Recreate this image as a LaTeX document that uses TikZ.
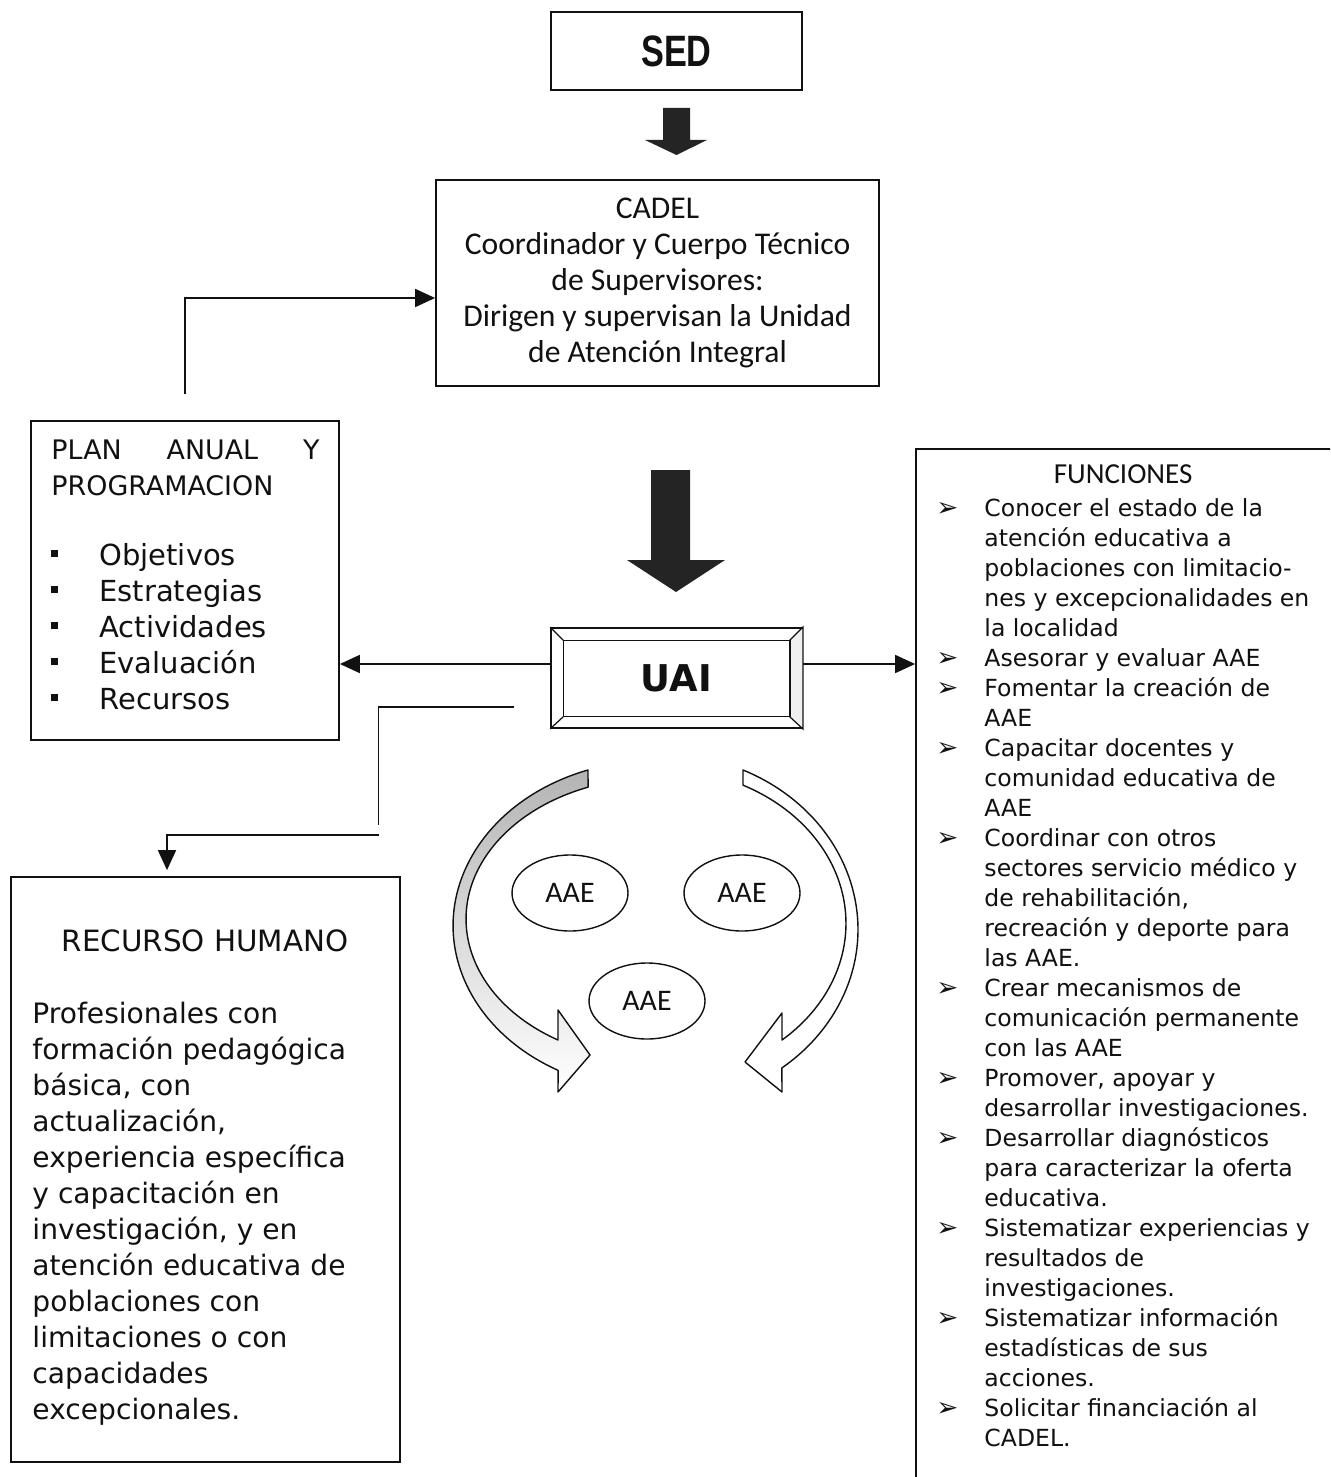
\documentclass[tikz,border=0pt]{standalone}
\usepackage{fontspec}
\setmainfont{DejaVu Sans}
\newfontfamily\gothfont{Carlito}
\newfontfamily\narrowfont[FakeStretch=0.78]{Liberation Sans}
\usepackage{tikz}
\usetikzlibrary{arrows.meta,positioning,shapes.geometric,calc}
\definecolor{UaiInk}{HTML}{111111}
\definecolor{UaiShade}{HTML}{B4B4B4}
\newcommand{\sqbullet}{\rule[0.16cm]{0.14cm}{0.14cm}}
\newcommand{\arrbullet}{{\fontsize{15}{17}\selectfont ➢}}
\tikzset{
  orgbox/.style={draw=UaiInk, line width=1pt, fill=white, inner sep=0pt},
  listtext/.style={anchor=north west, inner sep=0pt},
  aaebox/.style={ellipse, draw=UaiInk, line width=0.8pt, minimum width=2.32cm, minimum height=1.52cm, inner sep=0pt, font=\gothfont\fontsize{17}{20}\selectfont},
  orgline/.style={draw=UaiInk, line width=1pt},
  orgarrow/.style={orgline, -{Triangle[length=0.4cm,width=0.36cm]}},
  blockarrow/.style={fill=UaiInk!92},
  bendarrow/.style={draw=UaiInk, line width=0.8pt, line join=round}
}

\begin{document}
\begin{tikzpicture}[every node/.style={text=UaiInk}]
\useasboundingbox (0,0) rectangle (26.6,-29.54);
\clip (0,0) rectangle (26.6,-29.54);
% top: SED and CADEL
\node[orgbox, minimum width=5.02cm, minimum height=1.56cm, font=\narrowfont\bfseries\fontsize{25}{28}\selectfont] (sed) at (13.53,-1.02) {SED};
\fill[blockarrow] (13.26,-2.16) -- (13.80,-2.16) -- (13.80,-2.80) -- (14.14,-2.80) -- (13.53,-3.10) -- (12.90,-2.80) -- (13.26,-2.80) -- cycle;
\node[orgbox, minimum width=8.86cm, minimum height=4.12cm, align=center, font=\gothfont\fontsize{18}{20.5}\selectfont] (cadel) at (13.15,-5.66) {CADEL\\Coordinador y Cuerpo Técnico\\de Supervisores:\\Dirigen y supervisan la Unidad\\de Atención Integral};
\fill[blockarrow] (13.02,-9.40) -- (13.80,-9.40) -- (13.80,-11.20) -- (14.50,-11.20) -- (13.52,-11.84) -- (12.54,-11.20) -- (13.02,-11.20) -- cycle;
% UAI, bevelled frame
\node[orgbox, minimum width=5.02cm, minimum height=2.0cm, font=\bfseries\fontsize{21}{25}\selectfont] (uai) at (13.53,-13.56) {UAI};
\draw[orgline, line width=0.7pt, fill=UaiShade!20] (uai.north east) -- ([shift={(-0.26,-0.26)}]uai.north east) -- ([shift={(-0.26,0.24)}]uai.south east) -- (uai.south east) -- cycle;
\draw[orgline, line width=0.7pt] ([shift={(0.26,-0.26)}]uai.north west) rectangle ([shift={(-0.26,0.24)}]uai.south east);
\draw[orgline, line width=0.7pt] (uai.north west) -- ([shift={(0.26,-0.26)}]uai.north west) (uai.south west) -- ([shift={(0.26,0.24)}]uai.south west);
% plan
\node[orgbox, minimum width=6.16cm, minimum height=6.38cm] (plan) at (3.70,-11.61) {};
\node[listtext, font=\fontsize{16.5}{20.5}\selectfont] (plantext) at ([shift={(0.42,-0.27)}]plan.north west) {%
\begin{tabular}{@{}p{0.96cm}@{}l@{}}
\multicolumn{2}{@{}l@{}}{\fontsize{15.3}{18}\selectfont\makebox[5.36cm][s]{PLAN\hfill ANUAL\hfill Y}}\\
\multicolumn{2}{@{}l@{}}{\fontsize{15.3}{18}\selectfont PROGRAMACION}\\[0.68cm]
\sqbullet & Objetivos\\
\sqbullet & Estrategias\\
\sqbullet & Actividades\\
\sqbullet & Evaluación\\
\sqbullet & Recursos
\end{tabular}};
% recurso humano
\node[orgbox, minimum width=7.78cm, minimum height=11.7cm] (recurso) at (4.11,-23.39) {};
\node[listtext, font=\fontsize{16}{20.5}\selectfont] (recursotext) at ([shift={(0.44,-1.0)}]recurso.north west) {%
\begin{tabular}{@{}l@{}}
\makebox[6.9cm]{\fontsize{16.7}{20}\selectfont RECURSO HUMANO}\\[0.72cm]
Profesionales con\\
formación pedagógica\\
básica, con\\
actualización,\\
experiencia específica\\
y capacitación en\\
investigación, y en\\
atención educativa de\\
poblaciones con\\
limitaciones o con\\
capacidades\\
excepcionales.
\end{tabular}};
% funciones
\node[orgbox, minimum width=8.6cm, minimum height=20.9cm] (func) at (22.62,-19.43) {};
\node[listtext, font=\fontsize{13.4}{17.07}\selectfont] (functext) at ([shift={(0.42,-0.28)}]func.north west) {%
\begin{tabular}{@{}p{0.96cm}@{}l@{}}
\multicolumn{2}{@{}c@{}}{\gothfont\fontsize{16.5}{20}\selectfont FUNCIONES}\\[1.7pt]
\arrbullet & Conocer el estado de la\\
 & atención educativa a\\
 & poblaciones con limitacio-\\
 & nes y excepcionalidades en\\
 & la localidad\\
\arrbullet & Asesorar y evaluar AAE\\
\arrbullet & Fomentar la creación de\\
 & AAE\\
\arrbullet & Capacitar docentes y\\
 & comunidad educativa de\\
 & AAE\\
\arrbullet & Coordinar con otros\\
 & sectores servicio médico y\\
 & de rehabilitación,\\
 & recreación y deporte para\\
 & las AAE.\\
\arrbullet & Crear mecanismos de\\
 & comunicación permanente\\
 & con las AAE\\
\arrbullet & Promover, apoyar y\\
 & desarrollar investigaciones.\\
\arrbullet & Desarrollar diagnósticos\\
 & para caracterizar la oferta\\
 & educativa.\\
\arrbullet & Sistematizar experiencias y\\
 & resultados de\\
 & investigaciones.\\
\arrbullet & Sistematizar información\\
 & estadísticas de sus\\
 & acciones.\\
\arrbullet & Solicitar financiación al\\
 & CADEL.
\end{tabular}};
% ring of curved arrows
\draw[bendarrow, top color=UaiShade, middle color=white, bottom color=white] (11.76,-15.40) arc[start angle=109.4, end angle=241.3, x radius=4.04cm, y radius=3.30cm] -- (11.16,-21.84) -- (11.80,-21.10) -- (11.16,-20.20) -- (11.16,-20.80) arc[start angle=239.1, end angle=110.76, x radius=3.78cm, y radius=2.82cm] -- cycle;
\draw[bendarrow, fill=white] (14.86,-15.40) arc[start angle=65.2, end angle=-52.0, x radius=3.96cm, y radius=3.514cm] -- (15.64,-21.84) -- (14.90,-21.24) -- (15.64,-20.26) -- (15.64,-20.80) arc[start angle=-49.0, end angle=63.5, x radius=3.72cm, y radius=3.09cm] -- cycle;
\node[aaebox] (aae1) at (11.40,-17.86) {AAE};
\node[aaebox] (aae2) at (14.84,-17.86) {AAE};
\node[aaebox] (aae3) at (12.94,-20.02) {AAE};
% connectors
\coordinate (planup) at ([yshift=0.52cm]plan.north);
\draw[orgarrow] (planup) |- ([yshift=-0.30cm]cadel.west);
\draw[orgarrow] ([yshift=0.28cm]uai.west) -- ([yshift=0.28cm]uai.west -| plan.east);
\draw[orgarrow] ([yshift=0.28cm]uai.east) -- ([yshift=0.28cm]uai.east -| func.west);
\coordinate (uaitail) at (10.28,-14.14);
\coordinate (elbow) at (7.57,-16.50);
\coordinate (turn) at (7.57,-16.70);
\coordinate (drop) at (3.34,-16.70);
\draw[orgline] (uaitail) -| (elbow);
\draw[orgarrow, shorten >=0.12cm] (turn) -- (drop) -- (drop |- recurso.north);
\end{tikzpicture}
\end{document}
